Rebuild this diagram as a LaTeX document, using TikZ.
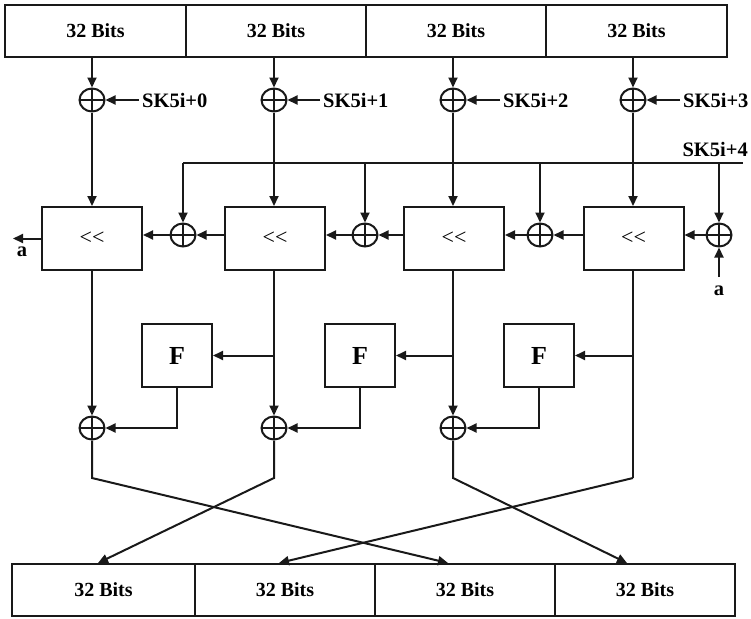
\documentclass[tikz,border=0pt]{standalone}
\usepackage{fontspec}
\setmainfont{Liberation Serif}
\usetikzlibrary{arrows.meta,shapes.geometric}

\begin{document}
\begin{tikzpicture}[x=1pt,y=-1pt,
  wire/.style={line width=2pt,draw=black!90},
  arr/.style={wire,-{Triangle[length=10pt,width=9pt]}},
  lbl/.style={font=\fontsize{20.5}{22}\selectfont\bfseries,inner sep=3pt},
  cell/.style={draw=black!90,line width=2pt,minimum height=52pt,inner sep=0pt,
    font=\fontsize{20}{22}\selectfont\bfseries},
  shiftbox/.style={draw=black!90,line width=2pt,minimum width=100pt,minimum height=63pt,
    inner sep=0pt,font=\fontsize{22}{22}\selectfont},
  fbox/.style={draw=black!90,line width=2pt,minimum width=70pt,minimum height=63pt,
    inner sep=0pt,font=\fontsize{26}{28}\selectfont\bfseries},
  xorop/.style={ellipse,draw=black!90,line width=2pt,minimum width=25pt,minimum height=23pt,
    inner sep=0pt,path picture={
      \draw[line width=2pt,black!90]
        (path picture bounding box.north) -- (path picture bounding box.south)
        (path picture bounding box.west) -- (path picture bounding box.east);}}
]
\useasboundingbox (0,0) rectangle (751,618);

% input words
\node[cell,minimum width=181pt] (i1) at (95.5,31) {32 Bits};
\node[cell,minimum width=180pt] (i2) at (276,31) {32 Bits};
\node[cell,minimum width=180pt] (i3) at (456,31) {32 Bits};
\node[cell,minimum width=181pt] (i4) at (636.5,31) {32 Bits};

% output words
\node[cell,minimum width=183pt] (o1) at (103.5,590) {32 Bits};
\node[cell,minimum width=180pt] (o2) at (285,590) {32 Bits};
\node[cell,minimum width=180pt] (o3) at (465,590) {32 Bits};
\node[cell,minimum width=180pt] (o4) at (645,590) {32 Bits};

% subkey additions
\node[xorop] (t1) at (92,100) {};
\node[xorop] (t2) at (274,100) {};
\node[xorop] (t3) at (453,100) {};
\node[xorop] (t4) at (633,100) {};
\node[lbl,anchor=west] (k0) at (139,100) {SK5i+0};
\node[lbl,anchor=west] (k1) at (320,100) {SK5i+1};
\node[lbl,anchor=west] (k2) at (500,100) {SK5i+2};
\node[lbl,anchor=west] (k3) at (680,100) {SK5i+3};
\foreach \i/\k in {1/0,2/1,3/2,4/3}{
  \draw[arr] (k\k.west) -- (t\i.east);
}

% shift boxes
\node[shiftbox] (b1) at (92,238.5) {<{}<};
\node[shiftbox] (b2) at (275,238.5) {<{}<};
\node[shiftbox] (b3) at (454,238.5) {<{}<};
\node[shiftbox] (b4) at (633.5,238.5) {<{}<};

\foreach \i in {1,2,3,4}{
  \draw[arr] (i\i.south -| t\i) -- (t\i.north);
  \draw[arr] (t\i.south) -- (t\i.south |- b\i.north);
}

% rotation-amount chain
\node[xorop] (m1) at (183,235) {};
\node[xorop] (m2) at (365,235) {};
\node[xorop] (m3) at (540,235) {};
\node[xorop] (m4) at (719,235) {};
\coordinate (kl) at (183,163);
\coordinate (kr) at (743,163);
\draw[wire] (kl) -- (kr);
\node[lbl,anchor=base east,inner sep=0pt] (k4) at (748,156) {SK5i+4};
\foreach \i in {1,2,3,4}{
  \draw[arr] (m\i |- kl) -- (m\i.north);
}
\draw[arr] (b2.west |- m1) -- (m1.east);
\draw[arr] (m1.west) -- (b1.east |- m1);
\draw[arr] (b3.west |- m2) -- (m2.east);
\draw[arr] (m2.west) -- (b2.east |- m2);
\draw[arr] (b4.west |- m3) -- (m3.east);
\draw[arr] (m3.west) -- (b3.east |- m3);
\draw[arr] (m4.west) -- (b4.east |- m4);
\coordinate (ain) at (719,277);
\node[lbl,inner sep=0pt] (alow) at (719,291) {a};
\draw[arr] (ain) -- (m4.south);
\coordinate (aout) at (13,238.5);
\node[lbl,inner sep=0pt] (aleft) at (22,252) {a};
\draw[arr] (b1.west) -- (aout);

% round functions
\node[fbox] (f1) at (177,355.5) {F};
\node[fbox] (f2) at (360,355.5) {F};
\node[fbox] (f3) at (539,355.5) {F};
\node[xorop] (x1) at (92,428) {};
\node[xorop] (x2) at (274,428) {};
\node[xorop] (x3) at (453,428) {};

\draw[arr] (b1.south) -- (x1.north);
\draw[arr] (b2.south -| x2) -- (x2.north);
\draw[arr] (b3.south -| x3) -- (x3.north);
\draw[arr] (x2 |- f1.east) -- (f1.east);
\draw[arr] (x3 |- f2.east) -- (f2.east);
\draw[arr] (t4 |- f3.east) -- (f3.east);
\draw[arr] (f1.south) |- (x1.east);
\draw[arr] (f2.south) |- (x2.east);
\draw[arr] (f3.south) |- (x3.east);

% word permutation
\coordinate (p1) at (92,478);
\coordinate (p2) at (274,478);
\coordinate (p3) at (453,478);
\coordinate (p4) at (633,478);
\draw[arr] (x1.south) -- (p1) -- ([xshift=-17pt]o3.north);
\draw[arr] (x2.south) -- (p2) -- ([xshift=-5.5pt]o1.north);
\draw[arr] (x3.south) -- (p3) -- ([xshift=-18pt]o4.north);
\draw[wire] (b4.south -| t4) -- (p4);
\draw[arr] (p4) -- ([xshift=-6pt]o2.north);
\end{tikzpicture}
\end{document}
